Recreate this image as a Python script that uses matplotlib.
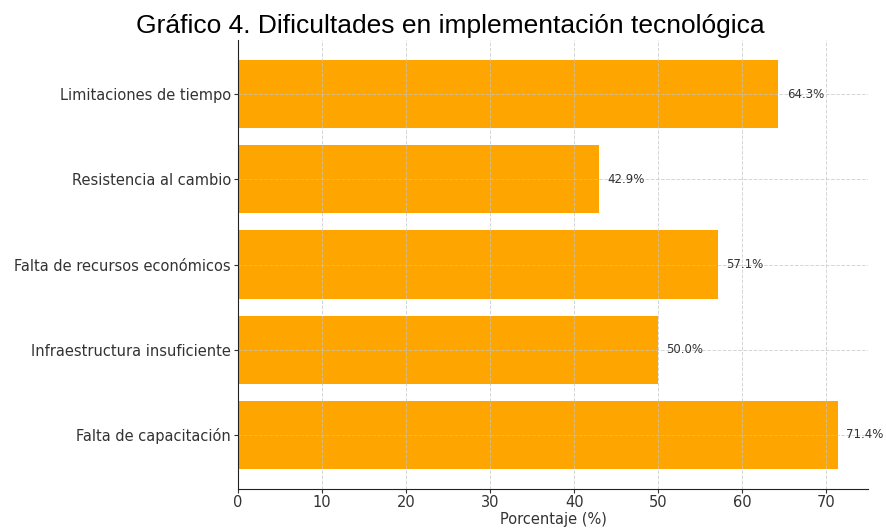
import matplotlib.pyplot as plt

# Dificultades reportadas (% de encuestados)
categorias = [
    "Falta de capacitación",
    "Infraestructura insuficiente",
    "Falta de recursos económicos",
    "Resistencia al cambio",
    "Limitaciones de tiempo",
]
porcentajes = [71.4, 50.0, 57.1, 42.9, 64.3]

fig = plt.figure(figsize=(8.87, 5.28), dpi=100)
ax = fig.add_axes([0.2683, 0.0739, 0.7103, 0.8503])

bars = ax.barh(categorias, porcentajes, height=0.8, color="#FFA500")

for b, v in zip(bars, porcentajes):
    ax.text(v + 1.0, b.get_y() + b.get_height() / 2, f"{v:.1f}%",
            va="center", ha="left", fontsize=8.5, color="#333333")

ax.grid(True, linestyle="--", linewidth=0.7, color="#c4c4c4", alpha=0.7)
ax.spines["top"].set_visible(False)
ax.spines["right"].set_visible(False)
ax.spines["left"].set_color("#222222")
ax.spines["bottom"].set_color("#222222")
ax.tick_params(labelsize=10.5, colors="#333333", length=3, pad=2)
ax.tick_params(axis="x", pad=1.5)
ax.set_xlabel("Porcentaje (%)", fontsize=10.5, color="#333333", labelpad=1)

fig.text(450 / 887, 1 - 26 / 528, "Gráfico 4. Dificultades en implementación tecnológica",
         ha="center", va="center", fontsize=19, family="Liberation Sans", color="black")

fig.savefig("out.png", dpi=100)
